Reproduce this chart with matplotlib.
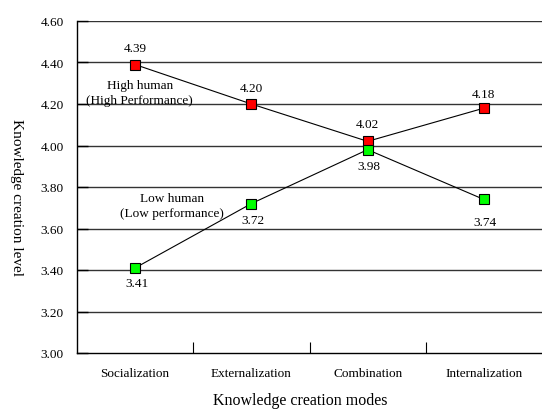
import numpy as np
import matplotlib.pyplot as plt

modes = ["Socialization", "Externalization", "Combination", "Internalization"]
high_human = [4.39, 4.20, 4.02, 4.18]
low_human = [3.41, 3.72, 3.98, 3.74]
y_ticks = [3.00, 3.20, 3.40, 3.60, 3.80, 4.00, 4.20, 4.40, 4.60]

plt.rcParams['font.family'] = ['Liberation Serif', 'DejaVu Serif']

fig = plt.figure(figsize=(5.42, 4.10), dpi=100)
ax = fig.add_axes([77 / 542, 56 / 410, 1 - 77 / 542, (354 - 22) / 410])

x = np.arange(len(modes)) + 0.5

for yv in y_ticks[1:]:
    ax.axhline(yv, color='#333333', lw=1.0, zorder=1)

ax.plot(x, high_human, color='black', lw=0.8, zorder=2)
ax.plot(x, low_human, color='black', lw=0.8, zorder=2)
ax.plot(x, high_human, 's', ms=7.2, mfc='#ff0000', mec='black', mew=0.8, zorder=3)
ax.plot(x, low_human, 's', ms=7.2, mfc='#00ff00', mec='black', mew=0.8, zorder=3)

# value labels (offsets in points)
high_off = [12, 11.5, 12.5, 10.5]
low_off = [-10.5, -12, -11.5, -16]
for xi, v, o in zip(x, high_human, high_off):
    ax.annotate(f"{v:.2f}", (xi, v), xytext=(0, o), textcoords='offset points',
                ha='center', va='center', fontsize=9.5)
for xi, v, o in zip(x, low_human, low_off):
    ax.annotate(f"{v:.2f}", (xi, v), xytext=(1, o), textcoords='offset points',
                ha='center', va='center', fontsize=9.5)

ax.text(0.54, 4.255, "High human\n(High Performance)", ha='center', va='center',
        fontsize=9.5, linespacing=1.3)
ax.text(0.82, 3.71, "Low human\n(Low performance)", ha='center', va='center',
        fontsize=9.5, linespacing=1.3)

ax.set_xlim(0, 4)
ax.set_ylim(3.0, 4.6)
ax.set_yticks(y_ticks)
ax.set_yticklabels([f"{v:.2f}" for v in y_ticks], fontsize=9.5)
ax.set_xticks([1, 2, 3])
ax.set_xticklabels([])
ax.set_xticks(x, minor=True)
ax.set_xticklabels(modes, minor=True, fontsize=9.5)
ax.tick_params(axis='x', which='major', direction='in', length=8, width=0.8)
ax.tick_params(axis='x', which='minor', length=0, pad=10)
ax.tick_params(axis='y', direction='in', length=8, width=1.0, pad=9.5)

for s in ['top', 'right']:
    ax.spines[s].set_visible(False)
ax.spines['left'].set_linewidth(1.0)
ax.spines['bottom'].set_linewidth(1.0)

fig.text(300 / 542, 1 - 401 / 410, "Knowledge creation modes", ha='center',
         va='center', fontsize=11.5)
fig.text(16 / 542, 1 - 198 / 410, "Knowledge creation level", ha='center',
         va='center', rotation=270, fontsize=11)

fig.savefig("out.png", dpi=100)
